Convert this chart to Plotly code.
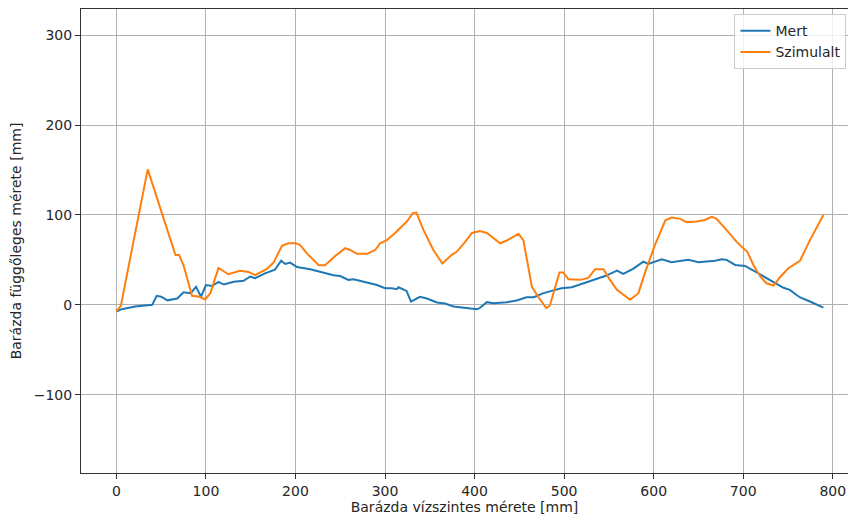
import plotly.graph_objects as go

mert_x = [0, 6, 21, 35, 40, 45, 50, 57, 68, 75, 83, 89, 94.5, 100, 107, 114, 120, 131, 142, 149.5,
          155, 166, 177, 184, 188.6, 194, 201.7, 216.5, 229.6, 242.5, 250, 259, 265, 274, 291, 300,
          307.7, 313, 315, 324, 329, 339, 346.7, 358, 367, 376.5, 389.5, 402.5, 405.5, 413.7, 421,
          436, 447, 458, 466, 477, 486, 497, 508.6, 521.5, 534.6, 545.8, 559, 566, 577, 588.5, 594,
          609, 620, 629.5, 638.7, 650, 668.5, 676, 681.5, 691, 702, 715, 730, 745, 752, 763, 774.5,
          789.5]
mert_y = [-7.4, -4.8, -1.9, -1, 0, 10, 9, 5, 7, 14, 13, 20, 9, 22, 21, 25.6, 22.6, 25.6, 26.7, 31.5,
          29.6, 35, 39, 49, 45.5, 47, 42, 39.6, 36, 33, 32, 27.8, 28.5, 26, 22, 18.5,
          18.5, 17.4, 19.6, 15.5, 3.7, 9, 7, 2.6, 1.5, -1.8, -3.7, -4.8, -3.7, 3, 1.8,
          3, 4.8, 8.5, 8.5, 13, 15.5, 18.5, 19.6, 24, 29, 32, 38, 34.4, 40, 48, 45.5,
          50.7, 47.4, 49, 50, 47.4, 49, 50.7, 50, 44.4, 43.3, 36, 27.8, 19, 16.7, 8.5, 3.7,
          -3]

szim_x = [0, 5, 35, 66, 70, 75, 84.5, 93, 99, 105, 114, 125, 138, 147.7, 155, 168, 175.5, 185, 192,
          200, 205, 213, 226, 233, 244, 255.6, 261, 268.6, 280, 289, 294.6, 302, 311, 324.4, 331,
          335, 343, 354, 364, 374.6, 380, 389.5, 397, 406, 413.7, 428.6, 436, 449, 454.5, 464, 471,
          480, 484, 494.8, 499, 504.8, 518, 527, 534.6, 544, 551, 559, 573.7, 583, 590, 601.6, 613,
          620, 629.5, 637, 648, 657, 665, 670, 681.5, 692.7, 700, 704.6, 711.5, 719, 726, 734, 741,
          750.4, 763.4, 774.5, 789.5]
szim_y = [-7.4, -1, 150.7, 55.5, 55.5, 44, 10, 9, 6, 13, 41, 34, 38, 36.6, 33, 40, 47, 65.6, 68.5,
          68.5, 66.7, 57, 44, 44, 54, 63, 61, 56.7, 56.7, 61, 68.5, 72, 79.6, 92.6, 102,
          102.6, 83, 61, 46, 55.6, 59, 70, 80, 82, 80, 68.5, 71.5, 79, 72, 20, 9,
          -3.7, -1, 36, 36, 28.5, 27.8, 30, 39.6, 39.6, 28, 16.7, 5.6, 13, 35, 67, 94,
          97, 95.6, 92, 92.6, 94.4, 98, 96, 83, 70, 63, 59, 44, 31.5, 24, 21.5, 30.7,
          40.7, 49, 72, 100]

x_ticks = [0, 100, 200, 300, 400, 500, 600, 700, 800]
y_ticks = [-100, 0, 100, 200, 300]

fig = go.Figure()
fig.add_trace(go.Scatter(x=mert_x, y=mert_y, mode="lines", name="Mert",
                         line=dict(color="#1f77b4", width=2)))
fig.add_trace(go.Scatter(x=szim_x, y=szim_y, mode="lines", name="Szimulalt",
                         line=dict(color="#ff7f0e", width=2)))

axis_common = dict(showgrid=True, gridcolor="#b0b0b0", gridwidth=1, zeroline=False,
                   showline=True, linecolor="#333333", linewidth=1,
                   ticks="outside", ticklen=5, tickcolor="#333333", tickwidth=1,
                   tickfont=dict(size=14, color="#262626"))

fig.update_layout(
    width=848, height=517,
    margin=dict(l=81, r=0, t=9, b=44),
    paper_bgcolor="white", plot_bgcolor="white",
    font=dict(family="DejaVu Sans", size=14, color="#262626"),
    xaxis=dict(range=[-39.5, 817], tickvals=x_ticks, mirror=True,
               title=dict(text="Barázda vízszintes mérete [mm]", standoff=4, font=dict(size=14)),
               **axis_common),
    yaxis=dict(range=[-187, 329], tickvals=y_ticks, mirror=False,
               title=dict(text="Barázda függőleges mérete [mm]", standoff=8, font=dict(size=14)),
               **axis_common),
    legend=dict(x=0.998, xanchor="right", y=0.989, yanchor="top",
                bgcolor="rgba(255,255,255,0.8)", bordercolor="#cccccc", borderwidth=1,
                font=dict(size=14, color="#262626"), tracegroupgap=0),
    showlegend=True,
)

fig.write_html("out.html")
